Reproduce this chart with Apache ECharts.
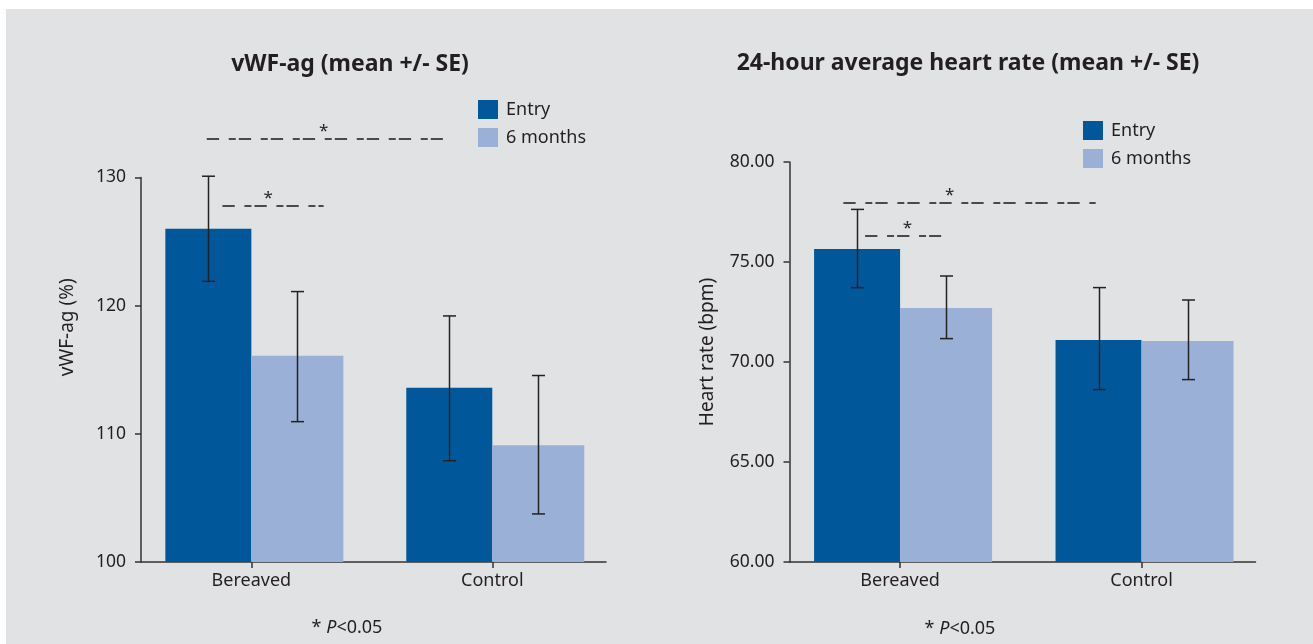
<!DOCTYPE html>
<html>
<head>
<meta charset="utf-8">
<script src="https://cdn.jsdelivr.net/npm/echarts@6/dist/echarts.min.js"></script>
<style>
  html, body { margin: 0; padding: 0; background: #ffffff; }
  #wrap { position: relative; width: 1313px; height: 644px; background: #ffffff; overflow: hidden; }
  #panel { position: absolute; left: 6px; top: 9px; width: 1307px; height: 635px; background: #e1e2e4; }
  #chart { position: absolute; left: 0; top: 0; width: 1313px; height: 644px; }
</style>
</head>
<body>
<div id="wrap"><div id="panel"></div><div id="chart"></div></div>
<script>
// ---- data ----
const categories = ['Bereaved', 'Control'];
const seriesNames = ['Entry', '6 months'];

// vWF-ag (%)
const vwfTicks = [100, 110, 120, 130];
const vwfEntry = [126.0, 113.6];
const vwfEntryLow = [121.9, 107.9];
const vwfEntryHigh = [130.1, 119.2];
const vwfSix = [116.1, 109.1];
const vwfSixLow = [110.95, 103.75];
const vwfSixHigh = [121.1, 114.55];
// significance brackets: [fromCat, toCat, value, starCat]
const vwfSig = [[-0.185, 0.795, 133.0, 0.30], [-0.12, 0.30, 127.75, 0.07]];

// 24-hour heart rate (bpm)
const hrTicks = [60, 65, 70, 75, 80];
const hrEntry = [75.65, 71.1];
const hrEntryLow = [73.72, 68.62];
const hrEntryHigh = [77.63, 73.72];
const hrSix = [72.7, 71.05];
const hrSixLow = [71.17, 69.12];
const hrSixHigh = [74.3, 73.1];
const hrSig = [[-0.235, 0.81, 77.97, 0.205], [-0.145, 0.17, 76.3, 0.03]];

// ---- styles ----
const FONT = '"Noto Sans", "Open Sans", sans-serif';
const TXT = '#231f20';
const AX = '#333333';
const C_ENTRY = '#00589b';
const C_SIX = '#9bb0d6';
const BAR_W = [86, 92];
// an empty spacer slot keeps the Entry/6-month boundary on the category tick
const SPACER_W = BAR_W[1] - BAR_W[0];
const GROUP_W = SPACER_W + BAR_W[0] + BAR_W[1];
const OFFS = [-GROUP_W / 2 + SPACER_W + BAR_W[0] / 2, -GROUP_W / 2 + SPACER_W + BAR_W[0] + BAR_W[1] / 2];

const chart = echarts.init(document.getElementById('chart'), null, { renderer: 'canvas' });

function xAxisCfg(gridIndex) {
  return {
    type: 'value', gridIndex: gridIndex, min: -0.458, max: 1.472,
    axisLine: { show: true, onZero: false, lineStyle: { color: AX, width: 1.5 } },
    axisTick: { show: true, length: 6, customValues: [0, 1], lineStyle: { color: AX, width: 1.5 } },
    axisLabel: {
      customValues: [0, 1], margin: 10, fontSize: 18, color: TXT, fontFamily: FONT,
      formatter: function (v) { return Number.isInteger(v) && categories[v] !== undefined ? categories[v] : ''; }
    },
    splitLine: { show: false }
  };
}
function yAxisCfg(gridIndex, ticks, name, pad, gap, fmt) {
  return {
    type: 'value', gridIndex: gridIndex,
    min: ticks[0], max: ticks[ticks.length - 1], interval: ticks[1] - ticks[0],
    name: name, nameLocation: 'middle', nameRotate: 90, nameGap: gap,
    nameTextStyle: { fontSize: 19, color: TXT, fontFamily: FONT, padding: [0, 0, 0, pad] },
    axisLine: { show: true, onZero: false, lineStyle: { color: AX, width: 1.5 } },
    axisTick: { show: true, length: 6, lineStyle: { color: AX, width: 1.5 } },
    axisLabel: { margin: 15, fontSize: 17.5, color: TXT, fontFamily: FONT, formatter: fmt },
    splitLine: { show: false }
  };
}
function barSeries(name, gi, vals, color, w) {
  return {
    type: 'bar', name: name, xAxisIndex: gi, yAxisIndex: gi,
    data: vals.map(function (v, i) { return [i, v]; }),
    barWidth: w, barGap: '0%', itemStyle: { color: color }, z: 2,
    emphasis: { disabled: true }
  };
}
function spacerSeries(gi) {
  return {
    type: 'bar', name: '_spacer', xAxisIndex: gi, yAxisIndex: gi,
    data: categories.map(function (c, i) { return [i, '-']; }),
    barWidth: SPACER_W, barGap: '0%', silent: true, itemStyle: { color: 'transparent' }
  };
}
function errSeries(gi, lows, highs, offset) {
  return {
    type: 'custom', xAxisIndex: gi, yAxisIndex: gi, z: 5, silent: true,
    data: lows.map(function (lo, i) { return [i, lo, highs[i]]; }),
    encode: { x: 0, y: [1, 2] },
    renderItem: function (params, api) {
      const x = api.value(0);
      const pH = api.coord([x, api.value(2)]);
      const pL = api.coord([x, api.value(1)]);
      const cx = Math.round(pH[0] + offset) + 0.5;
      const h = 6.5;
      const st = { stroke: '#222222', lineWidth: 1.5 };
      return { type: 'group', children: [
        { type: 'line', shape: { x1: cx, y1: pH[1], x2: cx, y2: pL[1] }, style: st },
        { type: 'line', shape: { x1: cx - h, y1: pH[1], x2: cx + h, y2: pH[1] }, style: st },
        { type: 'line', shape: { x1: cx - h, y1: pL[1], x2: cx + h, y2: pL[1] }, style: st }
      ] };
    }
  };
}
function sigSeries(gi, rows) {
  return {
    type: 'custom', xAxisIndex: gi, yAxisIndex: gi, z: 6, silent: true, clip: false,
    data: rows, encode: { x: [0, 1], y: 2 },
    renderItem: function (params, api) {
      const p1 = api.coord([api.value(0), api.value(2)]);
      const p2 = api.coord([api.value(1), api.value(2)]);
      const ps = api.coord([api.value(3), api.value(2)]);
      const y = Math.round(p1[1]);
      return { type: 'group', children: [
        { type: 'line', shape: { x1: p1[0], y1: y, x2: p2[0], y2: y },
          style: { stroke: '#4a4a4a', lineWidth: 1.8, lineDash: [12.3, 9.7, 7, 3] } },
        { type: 'text', x: ps[0], y: y - 8,
          style: { text: '*', fill: TXT, fontSize: 17, fontFamily: FONT, align: 'center', verticalAlign: 'middle' } }
      ] };
    }
  };
}
function legendCfg(left, top) {
  return {
    left: left, top: top, orient: 'vertical', padding: 0, itemGap: 9,
    itemWidth: 20, itemHeight: 19, icon: 'rect', selectedMode: false,
    data: seriesNames,
    textStyle: { fontSize: 18, color: TXT, fontFamily: FONT, padding: [0, 0, 0, 3] }
  };
}
function titleCfg(text, cx, cy, size, bold) {
  return {
    text: text, left: cx, top: cy, textAlign: 'center', textVerticalAlign: 'middle', padding: 0,
    textStyle: { fontSize: size, fontWeight: bold ? 'bold' : 'normal', color: TXT, fontFamily: FONT,
      rich: { i: { fontSize: size, fontStyle: 'italic', color: TXT, fontFamily: FONT } } }
  };
}

chart.setOption({
  backgroundColor: 'transparent',
  animation: false,
  title: [
    titleCfg('vWF-ag (mean +/- SE)', 350, 64, 23, true),
    titleCfg('24-hour average heart rate (mean +/- SE)', 968, 63, 23, true),
    titleCfg('* {i|P}<0.05', 347, 628, 18, false),
    titleCfg('* {i|P}<0.05', 960, 629, 18, false)
  ],
  legend: [legendCfg(478, 100), legendCfg(1083, 121)],
  grid: [
    { left: 141, top: 177.5, width: 465, height: 384.5 },
    { left: 789.5, top: 162, width: 466, height: 400 }
  ],
  xAxis: [xAxisCfg(0), xAxisCfg(1)],
  yAxis: [
    yAxisCfg(0, vwfTicks, 'vWF-ag (%)', 85, 64, function (v) { return String(v); }),
    yAxisCfg(1, hrTicks, 'Heart rate (bpm)', 20, 72, function (v) { return v.toFixed(2); })
  ],
  series: [
    spacerSeries(0),
    barSeries(seriesNames[0], 0, vwfEntry, C_ENTRY, BAR_W[0]),
    barSeries(seriesNames[1], 0, vwfSix, C_SIX, BAR_W[1]),
    spacerSeries(1),
    barSeries(seriesNames[0], 1, hrEntry, C_ENTRY, BAR_W[0]),
    barSeries(seriesNames[1], 1, hrSix, C_SIX, BAR_W[1]),
    errSeries(0, vwfEntryLow, vwfEntryHigh, OFFS[0]),
    errSeries(0, vwfSixLow, vwfSixHigh, OFFS[1]),
    errSeries(1, hrEntryLow, hrEntryHigh, OFFS[0]),
    errSeries(1, hrSixLow, hrSixHigh, OFFS[1]),
    sigSeries(0, vwfSig),
    sigSeries(1, hrSig)
  ]
});
</script>
</body>
</html>
